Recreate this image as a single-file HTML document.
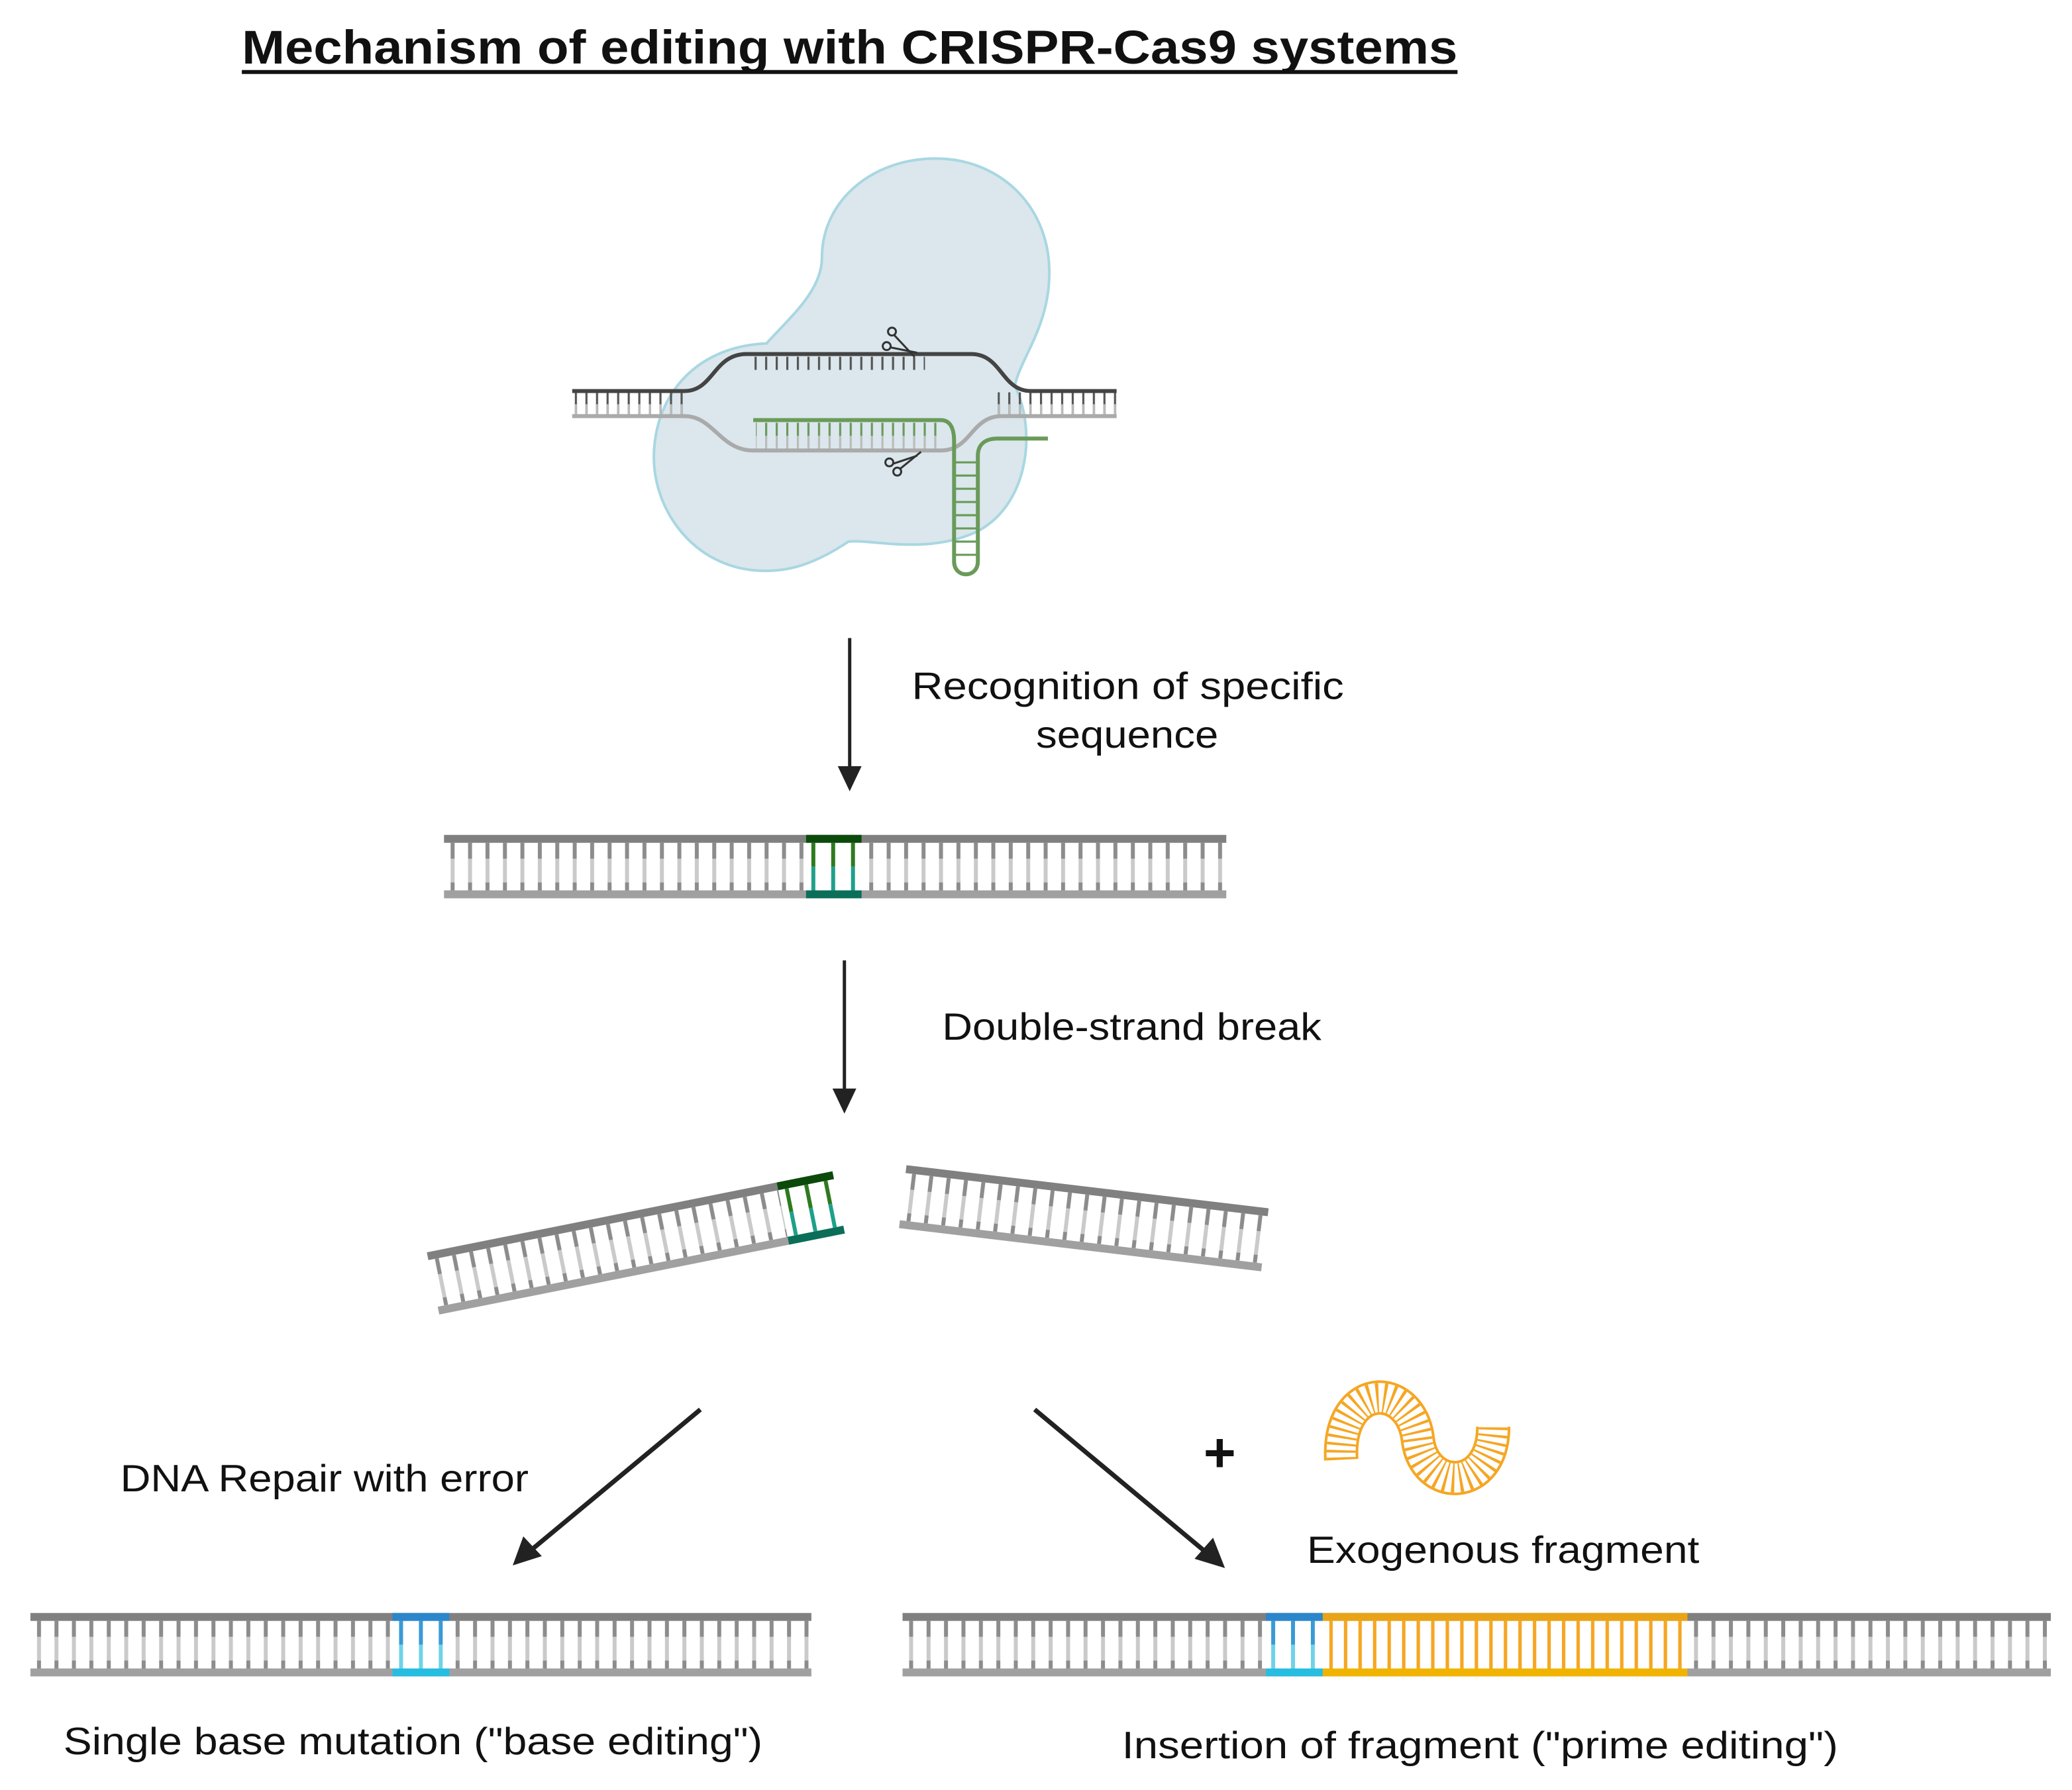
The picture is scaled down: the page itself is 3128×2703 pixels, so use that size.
<!DOCTYPE html>
<html><head><meta charset="utf-8"><style>
html,body{margin:0;padding:0;background:#fff}
svg{display:block}
text{font-family:"Liberation Sans",sans-serif;fill:#111}
</style></head><body>
<svg width="3128" height="2703" viewBox="0 0 1568 1355" xmlns="http://www.w3.org/2000/svg">
<defs>
<pattern id="r" patternUnits="userSpaceOnUse" width="13.2" height="36">
<rect x="5" y="0" width="3" height="18" fill="#8c8c8c"/><rect x="5" y="18" width="3" height="18" fill="#cacaca"/>
</pattern>
<pattern id="rs" patternUnits="userSpaceOnUse" width="8" height="20">
<rect x="3" y="0" width="1.6" height="20" fill="#555"/>
</pattern>
<pattern id="rs2" patternUnits="userSpaceOnUse" width="8" height="20">
<rect x="3" y="0" width="1.6" height="20" fill="#bbb"/>
</pattern>
<pattern id="rg" patternUnits="userSpaceOnUse" width="8" height="20">
<rect x="3" y="0" width="1.6" height="20" fill="#6a9a5a"/>
</pattern>
<pattern id="ro" patternUnits="userSpaceOnUse" width="11" height="36">
<rect x="4" y="0" width="2.6" height="36" fill="#f5a623"/>
</pattern>
</defs>

<text x="183" y="48" font-size="36" font-weight="bold" textLength="920" lengthAdjust="spacingAndGlyphs">Mechanism of editing with CRISPR-Cas9 systems</text>
<rect x="183" y="53" width="920" height="3" fill="#111"/>

<!-- Cas9 blob -->
<path d="M708 120 C758 120 796 158 794 210 C793 248 772 272 768 292 C786 330 776 385 738 403 C700 420 660 408 642 410 C615 428 595 433 575 432 C525 430 492 385 495 340 C498 295 530 262 580 260 C598 240 622 220 622 195 C622 152 660 120 708 120 Z" fill="#dbe7ec" stroke="#a8d7e2" stroke-width="2"/>

<!-- DNA in Cas9 -->
<rect x="433" y="297" width="87" height="18" fill="url(#rs)"/>
<rect x="755" y="297" width="90" height="18" fill="url(#rs)"/>
<rect x="433" y="306" width="87" height="9" fill="url(#rs2)"/>
<rect x="755" y="306" width="90" height="9" fill="url(#rs2)"/>
<rect x="568" y="270" width="132" height="10" fill="url(#rs)"/>
<rect x="572" y="320" width="140" height="10" fill="url(#rg)"/>
<rect x="572" y="330" width="140" height="10" fill="url(#rs2)"/>
<path d="M433 296 L518 296 C540 296 540 268 565 268 L735 268 C758 268 758 296 780 296 L845 296" fill="none" stroke="#444" stroke-width="3"/>
<path d="M433 315 L518 315 C540 315 545 341 570 341 L712 341 C735 341 735 315 758 315 L845 315" fill="none" stroke="#aaa" stroke-width="3"/>
<g stroke="#6a9a5a" stroke-width="1.6">
<line x1="722" y1="350" x2="740" y2="350"/><line x1="722" y1="360" x2="740" y2="360"/><line x1="722" y1="370" x2="740" y2="370"/><line x1="722" y1="380" x2="740" y2="380"/><line x1="722" y1="390" x2="740" y2="390"/><line x1="722" y1="400" x2="740" y2="400"/><line x1="722" y1="410" x2="740" y2="410"/><line x1="722" y1="420" x2="740" y2="420"/>
</g>
<path d="M570 318 L712 318 C720 318 722 326 722 334 L722 425 C722 438 740 438 740 425 L740 345 C740 336 746 332 755 332 L793 332" fill="none" stroke="#6a9a5a" stroke-width="3"/>
<g stroke="#333" stroke-width="1.5" fill="none">
<circle cx="675" cy="251" r="3"/><circle cx="671" cy="262" r="3"/>
<path d="M677 254 L692 270 M674 263 L694 267"/>
<circle cx="679" cy="357" r="3"/><circle cx="673" cy="350" r="3"/>
<path d="M681 355 L697 342 M676 351 L694 345"/>
</g>

<!-- arrow 1 -->
<line x1="643" y1="483" x2="643" y2="584" stroke="#222" stroke-width="2.5"/>
<path d="M634 580 L652 580 L643 599 Z" fill="#222"/>
<text x="690" y="529" font-size="29" textLength="327" lengthAdjust="spacingAndGlyphs">Recognition of specific</text>
<text x="784" y="566" font-size="29" textLength="138" lengthAdjust="spacingAndGlyphs">sequence</text>

<!-- middle DNA -->
<g transform="translate(336,632)">
<rect x="0" y="6" width="592" height="36" fill="url(#r)"/>
<rect x="0" y="0" width="592" height="6" fill="#808080"/>
<rect x="0" y="42" width="592" height="6" fill="#a0a0a0"/>
<rect x="274" y="6" width="42" height="36" fill="#fff"/>
<rect x="278" y="6" width="3" height="18" fill="#2f7a1f"/><rect x="278" y="24" width="3" height="18" fill="#1fa08a"/>
<rect x="293" y="6" width="3" height="18" fill="#2f7a1f"/><rect x="293" y="24" width="3" height="18" fill="#1fa08a"/>
<rect x="308" y="6" width="3" height="18" fill="#2f7a1f"/><rect x="308" y="24" width="3" height="18" fill="#1fa08a"/>
<rect x="274" y="0" width="42" height="6" fill="#0b4a0b"/>
<rect x="274" y="42" width="42" height="6" fill="#0a6e58"/>
</g>

<!-- arrow 2 -->
<line x1="639" y1="727" x2="639" y2="828" stroke="#222" stroke-width="2.5"/>
<path d="M630 824 L648 824 L639 843 Z" fill="#222"/>
<text x="713" y="787" font-size="29" textLength="287" lengthAdjust="spacingAndGlyphs">Double-strand break</text>

<!-- broken fragments -->
<g transform="translate(323,948) rotate(-11.3)">
<rect x="0" y="6" width="313" height="36" fill="url(#r)"/>
<rect x="0" y="0" width="313" height="6" fill="#808080"/>
<rect x="0" y="42" width="313" height="6" fill="#a0a0a0"/>
<rect x="270" y="6" width="42" height="36" fill="#fff"/>
<rect x="275" y="6" width="3" height="18" fill="#2f7a1f"/><rect x="275" y="24" width="3" height="18" fill="#1fa08a"/>
<rect x="290" y="6" width="3" height="18" fill="#2f7a1f"/><rect x="290" y="24" width="3" height="18" fill="#1fa08a"/>
<rect x="305" y="6" width="3" height="18" fill="#2f7a1f"/><rect x="305" y="24" width="3" height="18" fill="#1fa08a"/>
<rect x="270" y="0" width="43" height="6" fill="#0b4a0b"/>
<rect x="270" y="42" width="43" height="6" fill="#0a6e58"/>
</g>
<g transform="translate(686,882) rotate(6.8)">
<rect x="0" y="6" width="276" height="36" fill="url(#r)"/>
<rect x="0" y="0" width="276" height="6" fill="#808080"/>
<rect x="0" y="42" width="276" height="6" fill="#a0a0a0"/>
</g>

<!-- diagonal arrows -->
<line x1="530" y1="1067" x2="400" y2="1175" stroke="#222" stroke-width="3.5"/>
<path d="M388 1185 L396 1163 L410 1178 Z" fill="#222"/>
<line x1="783" y1="1067" x2="915" y2="1177" stroke="#222" stroke-width="3.5"/>
<path d="M927 1187 L904 1180 L918 1164 Z" fill="#222"/>
<text x="91" y="1129" font-size="29" textLength="309" lengthAdjust="spacingAndGlyphs">DNA Repair with error</text>
<text x="923" y="1114" font-size="42" font-weight="bold" text-anchor="middle">+</text>

<!-- orange wave -->
<g fill="none">
<path d="M1015 1105 C1012 1045 1068 1045 1073 1090 C1078 1130 1130 1130 1130 1080" stroke="#f5a623" stroke-width="26"/>
<path d="M1015 1105 C1012 1045 1068 1045 1073 1090 C1078 1130 1130 1130 1130 1080" stroke="#fff" stroke-width="22"/>
<path d="M1015 1105 C1012 1045 1068 1045 1073 1090 C1078 1130 1130 1130 1130 1080" stroke="#f5a623" stroke-width="22" stroke-dasharray="1.8 3.6"/>
</g>
<text x="989" y="1183" font-size="29" textLength="297" lengthAdjust="spacingAndGlyphs">Exogenous fragment</text>

<!-- bottom left DNA -->
<g transform="translate(23,1221)">
<rect x="0" y="6" width="591" height="36" fill="url(#r)"/>
<rect x="0" y="0" width="591" height="6" fill="#808080"/>
<rect x="0" y="42" width="591" height="6" fill="#a0a0a0"/>
<rect x="274" y="6" width="43" height="36" fill="#fff"/>
<rect x="279" y="6" width="3" height="18" fill="#3a9ad6"/><rect x="279" y="24" width="3" height="18" fill="#6fd3e8"/>
<rect x="294" y="6" width="3" height="18" fill="#3a9ad6"/><rect x="294" y="24" width="3" height="18" fill="#6fd3e8"/>
<rect x="309" y="6" width="3" height="18" fill="#3a9ad6"/><rect x="309" y="24" width="3" height="18" fill="#6fd3e8"/>
<rect x="274" y="0" width="43" height="6" fill="#2b86cc"/>
<rect x="274" y="42" width="43" height="6" fill="#27bde0"/>
</g>
<text x="48" y="1328" font-size="29" textLength="529" lengthAdjust="spacingAndGlyphs">Single base mutation ("base editing")</text>

<!-- bottom right DNA -->
<g transform="translate(683,1221)">
<rect x="0" y="6" width="869" height="36" fill="url(#r)"/>
<rect x="0" y="0" width="869" height="6" fill="#808080"/>
<rect x="0" y="42" width="869" height="6" fill="#a0a0a0"/>
<rect x="275" y="6" width="320" height="36" fill="#fff"/>
<rect x="279" y="6" width="3" height="18" fill="#3a9ad6"/><rect x="279" y="24" width="3" height="18" fill="#6fd3e8"/>
<rect x="294" y="6" width="3" height="18" fill="#3a9ad6"/><rect x="294" y="24" width="3" height="18" fill="#6fd3e8"/>
<rect x="309" y="6" width="3" height="18" fill="#3a9ad6"/><rect x="309" y="24" width="3" height="18" fill="#6fd3e8"/>
<rect x="275" y="0" width="43" height="6" fill="#2b86cc"/>
<rect x="275" y="42" width="43" height="6" fill="#27bde0"/>
<rect x="318" y="6" width="276" height="36" fill="url(#ro)"/>
<rect x="318" y="0" width="276" height="6" fill="#e8a317"/>
<rect x="318" y="42" width="276" height="6" fill="#f0b400"/>
</g>
<text x="849" y="1331" font-size="29" textLength="542" lengthAdjust="spacingAndGlyphs">Insertion of fragment ("prime editing")</text>
</svg>
</body></html>
